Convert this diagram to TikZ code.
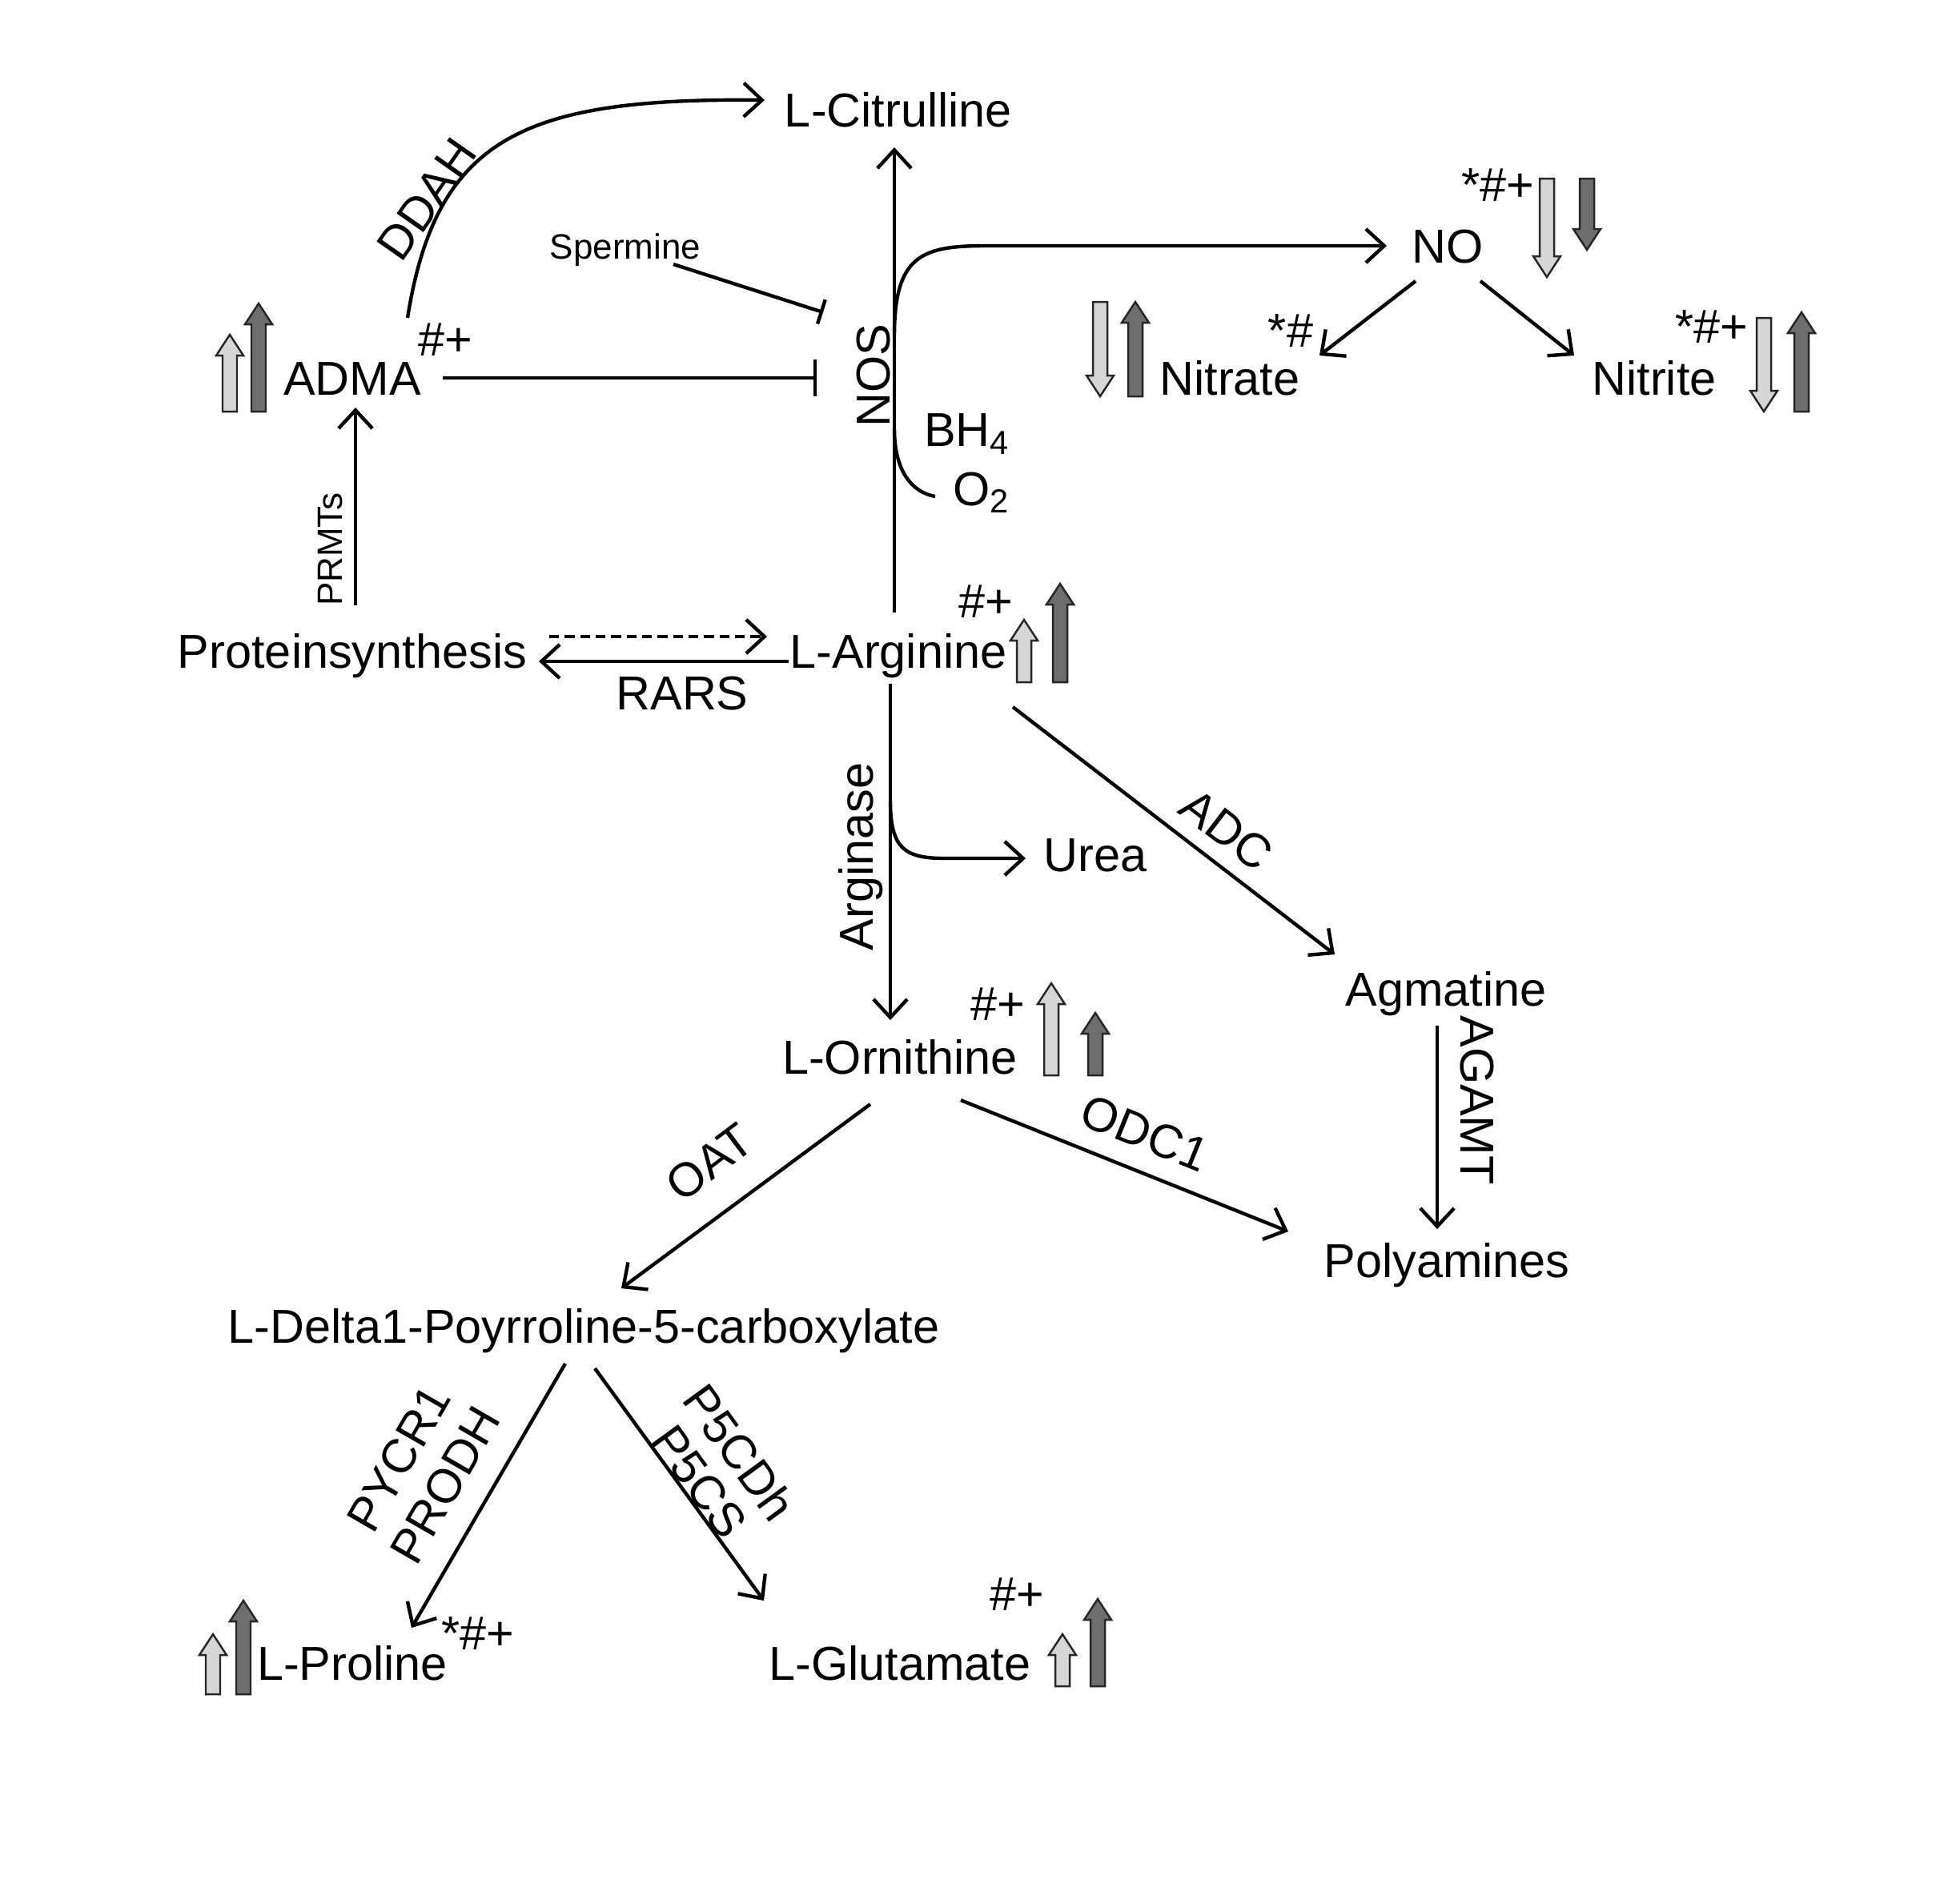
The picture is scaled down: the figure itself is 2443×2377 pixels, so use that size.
\documentclass[tikz,border=0pt]{standalone}
\usepackage{fontspec}
\setmainfont{Liberation Sans}
\usetikzlibrary{arrows.meta,calc}
\definecolor{lightg}{HTML}{D6D6D6}
\definecolor{darkg}{HTML}{6E6E6E}
\newcommand{\bup}[4]{\draw[blk,fill=#4] (#1-9,#3) -- (#1-9,#2+26) -- (#1-17,#2+26) -- (#1,#2) -- (#1+17,#2+26) -- (#1+9,#2+26) -- (#1+9,#3) -- cycle;}
\newcommand{\bdn}[4]{\draw[blk,fill=#4] (#1-9,#2) -- (#1-9,#3-26) -- (#1-17,#3-26) -- (#1,#3) -- (#1+17,#3-26) -- (#1+9,#3-26) -- (#1+9,#2) -- cycle;}
\tikzset{
  met/.style={font=\fontsize{16.9}{19}\selectfont, inner sep=0pt, text height=12.1pt, text depth=0pt},
  lab/.style={font=\fontsize{16.9}{19}\selectfont, inner sep=0pt},
  sml/.style={font=\fontsize{12.5}{15}\selectfont, inner sep=0pt},
  conn/.style={line width=1.25pt},
  arr/.style={conn, -{Straight Barb[length=6.5pt,width=12pt,line width=1.25pt]}},
  inh/.style={conn, -{Bar[width=13pt,line width=1.25pt]}},
  inhs/.style={conn, -{Bar[width=9pt,line width=1.25pt]}},
  blk/.style={line width=0.7pt, draw=black!85},
}
\begin{document}
\begin{tikzpicture}[x=0.01cm,y=-0.01cm]
\path[use as bounding box,fill=white] (0,0) rectangle (2443,2377);

% metabolites
\node[met] (cit) at (1122,137) {L-Citrulline};
\node[met] (no) at (1808,307) {NO};
\node[met] (nitrate) at (1536,472) {Nitrate};
\node[met] (nitrite) at (2066,472) {Nitrite};
\node[met] (adma) at (440,472) {ADMA};
\node[met] (prot) at (440,813) {Proteinsynthesis};
\node[met] (arg) at (1122,813) {L-Arginine};
\node[met] (urea) at (1368,1067) {Urea};
\node[met] (agm) at (1806,1235) {Agmatine};
\node[met] (orn) at (1124,1320) {L-Ornithine};
\node[met] (poly) at (1807,1574) {Polyamines};
\node[met] (p5c) at (729,1656) {L-Delta1-Poyrroline-5-carboxylate};
\node[met] (pro) at (440,2077) {L-Proline};
\node[met] (glu) at (1124,2077) {L-Glutamate};
\node[sml] (sperm) at (781,312) {Spermine};
\node[lab] (bh4) at (1208,542) {BH\textsubscript{4}};
\node[lab] (o2) at (1226,615) {O\textsubscript{2}};

% enzyme labels
\node[lab,rotate=55] (ddah) at (533,249) {DDAH};
\node[lab,rotate=90] (nos) at (1091,469) {NOS};
\node[sml,rotate=90] (prmt) at (413,686) {PRMTs};
\node[lab] (rars) at (852,866) {RARS};
\node[lab,rotate=90] (argase) at (1075,1070) {Arginase};
\node[lab,rotate=-37.5] (adc) at (1532,1036) {ADC};
\node[lab,rotate=-90] (agamt) at (1845,1374) {AGAMT};
\node[lab,rotate=-22] (odc) at (1430,1415) {ODC1};
\node[lab,rotate=37] (oat) at (886,1452) {OAT};
\node[lab,rotate=60,align=center] (pycr) at (527,1838) {PYCR1\\PRODH};
\node[lab,rotate=-54,align=center,font=\fontsize{16.9}{17.5}\selectfont] (p5cd) at (899,1832) {P5CDh\\P5CS};

% significance marks
\node[lab] (s1) at (556,424) {\#+};
\node[lab] (s2) at (1871,231) {*\#+};
\node[lab] (s3) at (1612,413) {*\#};
\node[lab] (s4) at (2138,408) {*\#+};
\node[lab] (s5) at (1231,751) {\#+};
\node[lab] (s6) at (1246,1254) {\#+};
\node[lab] (s7) at (597,2040) {*\#+};
\node[lab] (s8) at (1270,1991) {\#+};

% connectors
\draw[arr] ($(adma)+(69,-75)$) .. controls (545,171) and (654,122) .. ($(cit)+(-167,-12)$);
\draw[arr] ($(arg)+(-5,-48)$) -- ($(cit)+(-5,47)$);
\draw[arr] ($(arg)+(-5,-393)$) .. controls (1117,320) and (1150,307) .. (1230,307) -- ($(no)+(-76,0)$);
\draw[inhs] ($(sperm)+(60,18)$) -- ($(sperm)+(247,78)$);
\draw[inh] ($(adma)+(113,0)$) -- ($(adma)+(580,0)$);
\draw[conn] ($(arg)+(-5,-278)$) .. controls (1117,590) and (1140,615) .. ($(o2)+(-58,5)$);
\draw[arr] ($(no)+(-40,44)$) -- ($(nitrate)+(112,-28)$);
\draw[arr] ($(no)+(41,44)$) -- ($(nitrite)+(-100,-28)$);
\draw[arr,dash pattern=on 3.5pt off 2pt] ($(prot)+(246,-18)$) -- ($(arg)+(-164,-18)$);
\draw[arr] ($(arg)+(-137,13)$) -- ($(prot)+(233,13)$);
\draw[arr] ($(prot)+(4,-57)$) -- ($(adma)+(4,37)$);
\draw[arr] ($(arg)+(-10,41)$) -- ($(orn)+(-12,-46)$);
\draw[arr] ($(arg)+(-10,187)$) .. controls (1112,1060) and (1130,1072) .. (1180,1072) -- ($(urea)+(-87,5)$);
\draw[arr] ($(arg)+(143,70)$) -- ($(agm)+(-139,-43)$);
\draw[arr] ($(agm)+(-11,46)$) -- ($(poly)+(-12,-39)$);
\draw[arr] ($(orn)+(76,54)$) -- ($(poly)+(-198,-36)$);
\draw[arr] ($(orn)+(-37,59)$) -- ($(p5c)+(47,-47)$);
\draw[arr] ($(p5c)+(-23,47)$) -- ($(pro)+(74,-44)$);
\draw[arr] ($(p5c)+(14,53)$) -- ($(glu)+(-170,-78)$);

% block arrows
\bdn{1932}{223}{346}{lightg}
\bdn{1982}{223}{312}{darkg}
\bdn{1374}{377}{495}{lightg}
\bup{1418}{377}{495}{darkg}
\bdn{2203}{397}{514}{lightg}
\bup{2250}{390}{514}{darkg}
\bup{287}{418}{514}{lightg}
\bup{323}{379}{514}{darkg}
\bup{1279}{774}{852}{lightg}
\bup{1324}{729}{852}{darkg}
\bup{1313}{1228}{1343}{lightg}
\bup{1368}{1265}{1343}{darkg}
\bup{266}{2041}{2116}{lightg}
\bup{304}{1999}{2116}{darkg}
\bup{1327}{2041}{2106}{lightg}
\bup{1371}{1997}{2106}{darkg}
\end{tikzpicture}
\end{document}
